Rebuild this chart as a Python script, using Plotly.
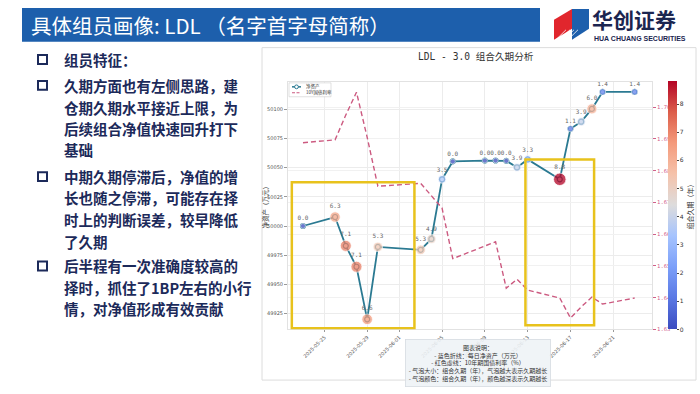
import plotly.graph_objects as go

# ---------------- data ----------------
dates = ["2025-05-23", "2025-05-26", "2025-05-27", "2025-05-28", "2025-05-29", "2025-05-30",
         "2025-06-03", "2025-06-04", "2025-06-05", "2025-06-06",
         "2025-06-09", "2025-06-10", "2025-06-11", "2025-06-12", "2025-06-13",
         "2025-06-16", "2025-06-17", "2025-06-18", "2025-06-19", "2025-06-20", "2025-06-23"]
net_assets = [50000.0, 50007.7, 49983.0, 49965.1, 49920.1, 49982.1,
              49979.6, 49988.9, 50040.0, 50055.3,
              50056.0, 50056.1, 50055.8, 50050.2, 50057.0,
              50040.0, 50083.3, 50089.3, 50100.3, 50114.8, 50114.8]
durations = [0.0, 6.3, 7.1, 7.1, 6.6, 5.3,
             5.3, 4.9, 3.5, 0.0,
             0.0, 0.0, 0.0, 3.9, 3.3,
             8.8, 1.1, 3.9, 6.0, 1.4, 1.4]
yield_10y = [1.6888, 1.6897, 1.6975, 1.7047, 1.6905, 1.6751,
             1.6760, 1.6720, 1.6682, 1.6523,
             1.6564, 1.6576, 1.6430, 1.6458, 1.6424,
             1.6399, 1.6336, 1.6371, 1.6402, 1.6380, 1.6399]
x_ticks = ["2025-05-25", "2025-05-29", "2025-06-01", "2025-06-05",
           "2025-06-09", "2025-06-13", "2025-06-17", "2025-06-21"]
left_ticks = [49925, 49950, 49975, 50000, 50025, 50050, 50075, 50100]
right_ticks = [1.63, 1.64, 1.65, 1.66, 1.67, 1.68, 1.69, 1.70]
cbar_ticks = [0, 1, 2, 3, 4, 5, 6, 7, 8]

slide_title = "具体组员画像: LDL （名字首字母简称）"
chart_title = "LDL - 3.0 组合久期分析"
legend_names = ["净资产", "10Y国债利率"]
bullets = [
    ["组员特征："],
    ["久期方面也有左侧思路，建", "仓期久期水平接近上限，为", "后续组合净值快速回升打下", "基础"],
    ["中期久期停滞后，净值的增", "长也随之停滞，可能存在择", "时上的判断误差，较早降低", "了久期"],
    ["后半程有一次准确度较高的", "择时，抓住了1BP左右的小行", "情，对净值形成有效贡献"],
]
note_lines = ["图表说明：",
              "- 蓝色折线：每日净资产（万元）",
              "- 红色虚线：10年期国债利率（%）",
              "- 气泡大小：组合久期（年），气泡越大表示久期越长",
              "- 气泡颜色：组合久期（年），颜色越深表示久期越长"]

# ---------------- helpers ----------------
W, H = 700, 394
def X(px):
    return px / W
def Y(py):
    return 1 - py / H

CJK = "Noto Sans CJK SC"
MONO = "DejaVu Sans Mono, Noto Sans CJK SC"
NAVY = "#1c2a5a"
TEAL = "#2b7a92"
PINK = "#cc5a80"

coolwarm = [[0.0, "#3b4cc0"], [0.125, "#5a78e4"], [0.25, "#7b9ff9"], [0.375, "#a5c3fe"],
            [0.5, "#dddcdc"], [0.625, "#f5c2aa"], [0.75, "#f49a7b"], [0.875, "#dc5d4a"],
            [1.0, "#b40426"]]

fig = go.Figure()

# net asset line
fig.add_trace(go.Scatter(
    x=dates, y=net_assets, mode="lines+markers", name=legend_names[0], showlegend=False,
    line=dict(color=TEAL, width=1.8),
    marker=dict(symbol="circle", size=5, color="white", line=dict(color=TEAL, width=1.2)),
    yaxis="y"))

# yield line
fig.add_trace(go.Scatter(
    x=dates, y=yield_10y, mode="lines", name=legend_names[1], showlegend=False,
    line=dict(color=PINK, width=1.4, dash="5px,3px"),
    yaxis="y2"))

# bubbles
sizes = [5 + 0.85 * d for d in durations]
fig.add_trace(go.Scatter(
    x=dates, y=net_assets, mode="markers+text", showlegend=False,
    text=[f"{d:.1f}" for d in durations], textposition="top center",
    textfont=dict(size=6, color="#666", family=MONO),
    marker=dict(size=sizes, color=durations, coloraxis="coloraxis", opacity=0.75,
                line=dict(color="white", width=0.8)),
    yaxis="y", cliponaxis=False))

shapes = []
annotations = []

# chart panel
shapes.append(dict(type="rect", xref="paper", yref="paper", x0=X(262), x1=X(696), y0=Y(383), y1=Y(48),
                   line=dict(color="#dcdcdc", width=1), fillcolor="white", layer="below"))
# header bar
shapes.append(dict(type="rect", xref="paper", yref="paper", x0=X(22), x1=X(540), y0=Y(42), y1=Y(8),
                   line=dict(width=0), fillcolor="#1d5fac", layer="below"))
annotations.append(dict(text=slide_title, xref="paper", yref="paper", x=X(29), y=Y(25),
                        xanchor="left", yanchor="middle", showarrow=False,
                        font=dict(family=CJK, size=20.5, color="white")))
# logo
shapes.append(dict(type="path", xref="paper", yref="paper",
                   path=f"M {X(554)},{Y(40)} L {X(554)},{Y(20)} L {X(572)},{Y(9)} L {X(572)},{Y(29)} Z",
                   fillcolor="#e1262d", line=dict(width=0)))
shapes.append(dict(type="path", xref="paper", yref="paper",
                   path=f"M {X(572)},{Y(9)} L {X(589)},{Y(9)} L {X(589)},{Y(29)} L {X(572)},{Y(40)} L {X(572)},{Y(29)} Z",
                   fillcolor="#1d5fac", line=dict(width=0)))
for k in range(4):
    shapes.append(dict(type="line", xref="paper", yref="paper",
                       x0=X(556 + 4 * k), y0=Y(40), x1=X(566 + 4 * k), y1=Y(30),
                       line=dict(color="white", width=0.8)))
annotations.append(dict(text="<b>华创证券</b>", xref="paper", yref="paper", x=X(590), y=Y(19),
                        xanchor="left", yanchor="middle", showarrow=False,
                        font=dict(family=CJK, size=21, color="#1b2550")))
annotations.append(dict(text="<b>HUA CHUANG SECURITIES</b>", xref="paper", yref="paper", x=X(592), y=Y(38.5),
                        xanchor="left", yanchor="middle", showarrow=False,
                        font=dict(family="Liberation Sans Narrow, Liberation Sans", size=7, color="#1b2550")))

# left bullet text
line_y = [[60], [86, 108, 129, 151], [178, 199, 221, 243], [268, 290, 311]]
for group, ys in zip(bullets, line_y):
    shapes.append(dict(type="rect", xref="paper", yref="paper", x0=X(38), x1=X(47),
                       y0=Y(ys[0] + 4.5), y1=Y(ys[0] - 4.5), line=dict(color=NAVY, width=2)))
    for txt, yy in zip(group, ys):
        annotations.append(dict(text=txt, xref="paper", yref="paper", x=X(62), y=Y(yy),
                                xanchor="left", yanchor="middle", showarrow=False,
                                font=dict(family=CJK, size=14.5, color=NAVY, weight="bold")))

# chart title
annotations.append(dict(text=chart_title, xref="paper", yref="paper", x=X(476), y=Y(57),
                        xanchor="center", yanchor="middle", showarrow=False,
                        font=dict(family=MONO, size=9.6, color="#333")))
# axis titles
annotations.append(dict(text="净资产（万元）", xref="paper", yref="paper", x=X(265), y=Y(207),
                        textangle=-90, xanchor="center", yanchor="middle", showarrow=False,
                        font=dict(family=CJK, size=6.5, color="#333")))
annotations.append(dict(text="组合久期（年）", xref="paper", yref="paper", x=X(690), y=Y(207),
                        textangle=-90, xanchor="center", yanchor="middle", showarrow=False,
                        font=dict(family=CJK, size=7, color="#333")))
# manual legend
shapes.append(dict(type="rect", xref="paper", yref="paper", x0=X(289), x1=X(331), y0=Y(97.5), y1=Y(83.5),
                   line=dict(color="#cccccc", width=0.6), fillcolor="white"))
shapes.append(dict(type="line", xref="paper", yref="paper", x0=X(292), x1=X(301), y0=Y(87.5), y1=Y(87.5),
                   line=dict(color=TEAL, width=1.5)))
shapes.append(dict(type="circle", xref="paper", yref="paper", x0=X(294.6), x1=X(298.4), y0=Y(89.4), y1=Y(85.6),
                   line=dict(color=TEAL, width=1), fillcolor="white"))
shapes.append(dict(type="line", xref="paper", yref="paper", x0=X(292), x1=X(301), y0=Y(93.5), y1=Y(93.5),
                   line=dict(color=PINK, width=1.1, dash="3px,1.5px")))
for name, yy in zip(legend_names, [87.5, 93.5]):
    annotations.append(dict(text=name, xref="paper", yref="paper", x=X(303.5), y=Y(yy),
                            xanchor="left", yanchor="middle", showarrow=False,
                            font=dict(family=CJK, size=4.5, color="#333")))
# note box
annotations.append(dict(text="<br>".join(note_lines), xref="paper", yref="paper", x=X(478), y=Y(342),
                        xanchor="center", yanchor="top", showarrow=False, align="center",
                        bgcolor="rgba(238,242,246,0.88)", bordercolor="#d6dbe2", borderwidth=0.8,
                        borderpad=3, font=dict(family=CJK, size=6, color="#333")))

# highlight boxes (yellow)
shapes.append(dict(type="rect", xref="x", yref="y", x0="2025-05-21 23:00", x1="2025-06-02 10:00",
                   y0=49912.5, y1=50037.5, line=dict(color="#e8c21c", width=2.5)))
shapes.append(dict(type="rect", xref="x", yref="y", x0="2025-06-12 19:00", x1="2025-06-19 05:00",
                   y0=49915, y1=50057, line=dict(color="#e8c21c", width=2.5)))

fig.update_layout(
    width=W, height=H, margin=dict(l=0, r=0, t=0, b=0),
    paper_bgcolor="white", plot_bgcolor="white",
    font=dict(family=CJK),
    shapes=shapes, annotations=annotations, showlegend=False,
    xaxis=dict(domain=[X(288), X(652)], type="date",
               range=["2025-05-21 14:24", "2025-06-24 14:53"],
               tickvals=x_ticks, ticktext=x_ticks, tickangle=-45,
               tickfont=dict(size=5, color="#555", family="DejaVu Sans"),
               showgrid=True, gridcolor="#ececec", gridwidth=0.8,
               showline=True, linecolor="#e2e2e2", mirror=True, zeroline=False,
               ticks="outside", ticklen=2, tickcolor="#999"),
    yaxis=dict(domain=[Y(332), Y(83)], range=[49911.4, 50123],
               tickvals=left_ticks, ticktext=[str(v) for v in left_ticks],
               tickfont=dict(size=5, color="#555", family="DejaVu Sans"),
               showgrid=True, gridcolor="#ececec", gridwidth=0.8,
               showline=True, linecolor="#e2e2e2", mirror=True, zeroline=False,
               ticks="outside", ticklen=3, tickcolor="#999"),
    yaxis2=dict(overlaying="y", side="right", anchor="x", range=[1.63, 1.7078],
                tickvals=right_ticks, ticktext=[f"{v:.2f}" for v in right_ticks],
                tickfont=dict(size=5.5, color="#d0608a", family=MONO),
                showgrid=True, gridcolor="#f1f1f1", gridwidth=0.8, zeroline=False,
                ticks="outside", ticklen=3, tickcolor="#d0608a"),
    coloraxis=dict(cmin=0, cmax=8.8, colorscale=coolwarm,
                   colorbar=dict(x=X(668), xanchor="left", xref="paper", xpad=0, ypad=0, thickness=9,
                                 len=(332 - 82) / H, lenmode="fraction", y=Y(332), yanchor="bottom",
                                 tickvals=cbar_ticks, ticks="outside", ticklen=2,
                                 tickfont=dict(size=6, color="#333", family="DejaVu Sans"),
                                 outlinewidth=0)),
)

fig.write_html("out.html", config={"displayModeBar": False},
               post_script="document.body.style.margin='0px';")
